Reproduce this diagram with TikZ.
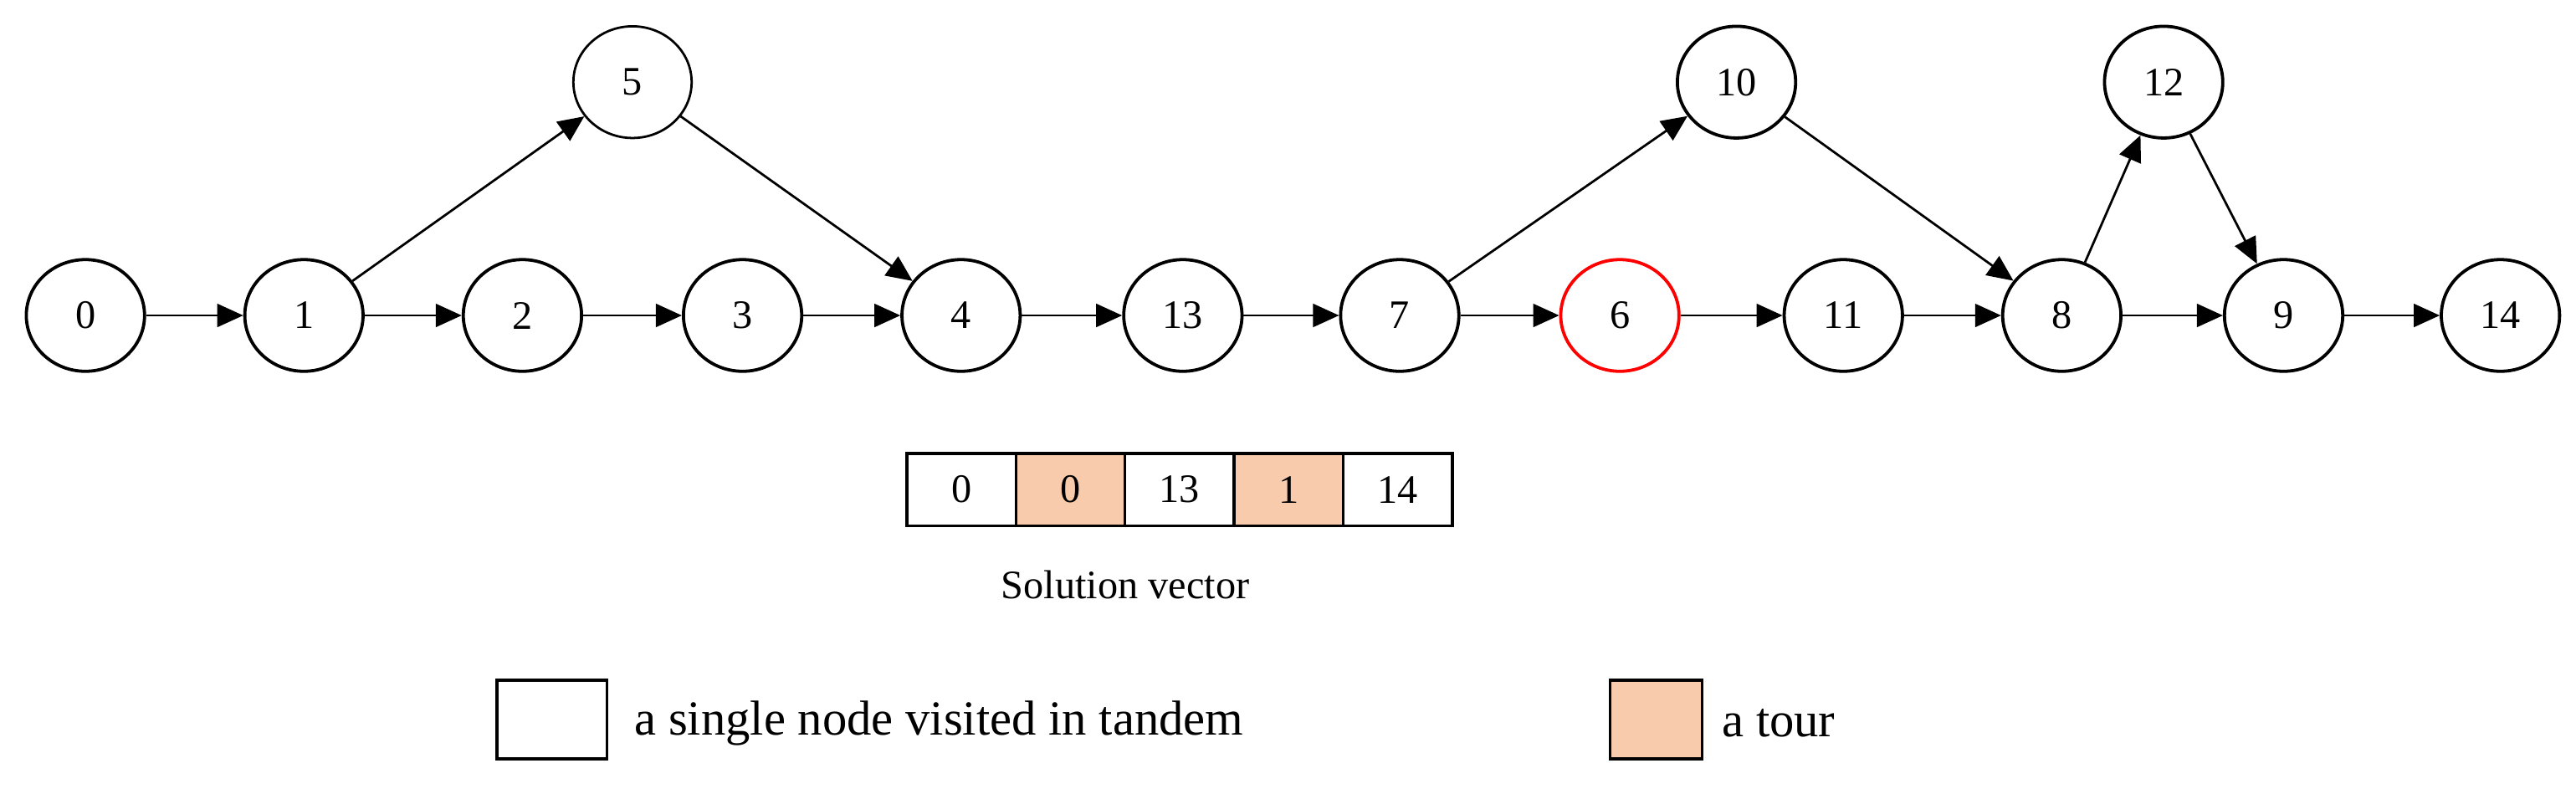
\documentclass[tikz,border=0pt]{standalone}
\usepackage{fontspec}
\setmainfont{Liberation Serif}
\usetikzlibrary{arrows.meta,shapes.geometric}
\definecolor{peach}{HTML}{F8CBAD}
\begin{document}
\begin{tikzpicture}[x=0.02cm,y=-0.02cm,
  v/.style={ellipse,draw,line width=1.1pt,minimum width=1.44cm,minimum height=1.36cm,inner sep=0pt,font=\fontsize{14}{16}\selectfont},
  e/.style={-{Triangle[length=9pt,width=8pt]},line width=0.8pt},
  cell/.style={draw,line width=1pt,minimum width=1.328cm,minimum height=0.88cm,inner sep=0pt,font=\fontsize{14}{16}\selectfont}]
\useasboundingbox (0,0) rectangle (1568,483);
\node[v] (n0) at (52,192) {0};
\node[v] (n1) at (185,192) {1};
\node[v] (n2) at (318,192) {2};
\node[v] (n3) at (452,192) {3};
\node[v] (n4) at (585,192) {4};
\node[v] (n13) at (720,192) {13};
\node[v] (n7) at (852,192) {7};
\node[v,draw=red] (n6) at (986,192) {6};
\node[v] (n11) at (1122,192) {11};
\node[v] (n8) at (1255,192) {8};
\node[v] (n9) at (1390,192) {9};
\node[v] (n14) at (1522,192) {14};
\node[v,line width=0.8pt] (n5) at (385,50) {5};
\node[v] (n10) at (1057,50) {10};
\node[v] (n12) at (1317,50) {12};
\foreach \a/\b in {n0/n1,n1/n2,n2/n3,n3/n4,n1/n5,n5/n4,n4/n13,n13/n7,n7/n10,n10/n8,n7/n6,n6/n11,n11/n8,n8/n12,n12/n9,n8/n9,n9/n14}
  \draw[e] (\a) -- (\b);
\node[cell] (c1) at (585.2,298) {0};
\node[cell,fill=peach] (c2) at (651.6,298) {0};
\node[cell] (c3) at (718,298) {13};
\node[cell,fill=peach] (c4) at (784.4,298) {1};
\node[cell] (c5) at (850.8,298) {14};
\node[font=\fontsize{14}{16}\selectfont] (sv) at (685,356) {Solution vector};
\node[draw,line width=1pt,minimum width=1.34cm,minimum height=0.96cm] (l1) at (336,438) {};
\node[anchor=west,font=\fontsize{17}{20}\selectfont] (t1) at (380,440) {a single node visited in tandem};
\node[draw,line width=1pt,fill=peach,minimum width=1.12cm,minimum height=0.96cm] (l2) at (1008,438) {};
\node[anchor=west,font=\fontsize{17}{20}\selectfont] (t2) at (1042,440) {a tour};
\end{tikzpicture}
\end{document}
